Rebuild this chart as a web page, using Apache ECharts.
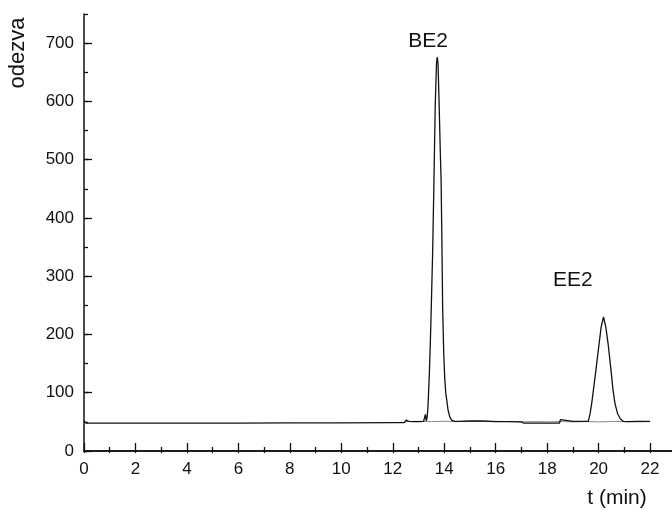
<!DOCTYPE html>
<html>
<head>
<meta charset="utf-8">
<script src="https://cdn.jsdelivr.net/npm/echarts@6/dist/echarts.min.js"></script>
<style>
  html, body { margin: 0; padding: 0; background: #fff; overflow: hidden; }
  #chart { width: 672px; height: 512px; }
</style>
</head>
<body>
<div id="chart"></div>
<script>
// Sample chromatogram: [time (min), detector response]
const sampleTrace = [
  [0, 52], [0.08, 48], [2, 48], [4, 48], [6, 48], [8, 48.2], [10, 48.4], [12, 48.6],
  [12.45, 48.6], [12.52, 53], [12.56, 55], [12.62, 51], [12.8, 50.5], [13.0, 50.5],
  [13.2, 51], [13.24, 58], [13.27, 63], [13.30, 52], [13.33, 56], [13.36, 70],
  [13.38, 87], [13.42, 130], [13.46, 185], [13.50, 250], [13.55, 340], [13.60, 460],
  [13.65, 590], [13.70, 665], [13.73, 676], [13.76, 665], [13.80, 600], [13.85, 510],
  [13.88, 464], [13.91, 360], [13.94, 245], [13.98, 170], [14.02, 125], [14.06, 100],
  [14.10, 87], [14.15, 70], [14.22, 58], [14.29, 53], [14.40, 51], [14.6, 51],
  [15.0, 51.5], [15.5, 51.5], [15.52, 53], [15.56, 51], [16.0, 50.5], [16.5, 50.5],
  [17.0, 50], [17.08, 48], [17.5, 48], [18.0, 48], [18.48, 48], [18.52, 54],
  [18.56, 51], [19.0, 51], [19.5, 51], [19.60, 51], [19.67, 64], [19.73, 81],
  [19.80, 105], [19.90, 140], [20.02, 184], [20.10, 213], [20.19, 230], [20.28, 213],
  [20.37, 184], [20.48, 140], [20.56, 105], [20.64, 81], [20.74, 64], [20.85, 55],
  [20.96, 51], [21.1, 50.5], [21.5, 51], [22.0, 51]
];

// Blank run overlaid on the tail of the sample run
const blankTrace = [
  [12.5, 50.5], [13.0, 51], [13.5, 50.5], [14.0, 51], [14.5, 50.5], [15.0, 51],
  [15.5, 50.5], [16.0, 51], [16.5, 50.5], [17.0, 50], [17.5, 50.5], [18.0, 50],
  [18.5, 50.5], [19.0, 50], [19.5, 50.5], [20.0, 50], [20.5, 50.5], [21.0, 50.5],
  [21.5, 50], [22.0, 50.5]
];

// Peak annotations: [time, response, name]
const peakLabels = [
  [13.37, 703, 'BE2'],
  [19.0, 293, 'EE2']
];

const xTickStep = 2;
const yTickStep = 100;

const FONT = 'Liberation Sans, Arial, sans-serif';
const INK = '#111';

const chart = echarts.init(document.getElementById('chart'), null, { renderer: 'canvas' });

const axisLine = { show: true, lineStyle: { color: INK, width: 1.5 } };

chart.setOption({
  animation: false,
  backgroundColor: '#fff',
  // the plot runs past the right edge of the page, so its right border is not shown
  grid: { left: 84, top: 14, right: -29.5, bottom: 61, containLabel: false, outerBoundsMode: 'none' },
  xAxis: [
    {
      type: 'value', position: 'bottom', min: 0, max: 24, interval: xTickStep,
      axisLine: axisLine,
      axisTick: { show: true, inside: true, length: 8, lineStyle: { color: INK, width: 1.3 } },
      minorTick: { show: true, splitNumber: 2, length: 4, lineStyle: { color: INK, width: 1.3 } },
      splitLine: { show: false },
      axisLabel: { show: true, margin: 10, fontSize: 17, fontFamily: FONT, color: INK, showMaxLabel: false }
    },
    {
      type: 'value', position: 'top', min: 0, max: 24, interval: 1,
      axisLine: axisLine,
      axisTick: { show: true, inside: true, length: 2, lineStyle: { color: INK, width: 1.2 } },
      splitLine: { show: false },
      axisLabel: { show: false }
    }
  ],
  yAxis: [
    {
      type: 'value', position: 'left', min: 0, max: 750, interval: yTickStep,
      axisLine: axisLine,
      axisTick: { show: true, inside: true, length: 8, lineStyle: { color: INK, width: 1.3 } },
      splitLine: { show: false },
      axisLabel: { show: true, margin: 10, fontSize: 17, fontFamily: FONT, color: INK, showMaxLabel: false }
    },
    {
      // half-step ticks on the same left edge
      type: 'value', position: 'left', min: 0, max: 750, interval: yTickStep / 2,
      axisLine: { show: false },
      axisTick: { show: true, inside: true, length: 4, lineStyle: { color: INK, width: 1.3 } },
      splitLine: { show: false },
      axisLabel: { show: false }
    }
  ],
  series: [
    {
      name: 'blank', type: 'line', xAxisIndex: 0, yAxisIndex: 0,
      data: blankTrace, showSymbol: false, symbol: 'none', z: 2,
      lineStyle: { color: '#8a8a8a', width: 1 }
    },
    {
      name: 'sample', type: 'line', xAxisIndex: 0, yAxisIndex: 0,
      data: sampleTrace, showSymbol: false, symbol: 'none', z: 3,
      lineStyle: { color: INK, width: 1.3 },
      markPoint: {
        silent: true, symbol: 'circle', symbolSize: 0,
        label: {
          show: true, position: 'inside', fontSize: 21, fontFamily: FONT, color: INK,
          formatter: p => p.name
        },
        data: peakLabels.map(p => ({ coord: [p[0], p[1]], name: p[2], value: p[2] }))
      }
    }
  ],
  graphic: [
    {
      type: 'text', x: 18, y: 53, rotation: Math.PI / 2,
      style: { text: 'odezva', font: '22px ' + FONT, fill: INK, textAlign: 'center', textVerticalAlign: 'middle' }
    },
    {
      type: 'text', x: 617, y: 498,
      style: { text: 't (min)', font: '21px ' + FONT, fill: INK, textAlign: 'center', textVerticalAlign: 'middle' }
    }
  ]
});
</script>
</body>
</html>
